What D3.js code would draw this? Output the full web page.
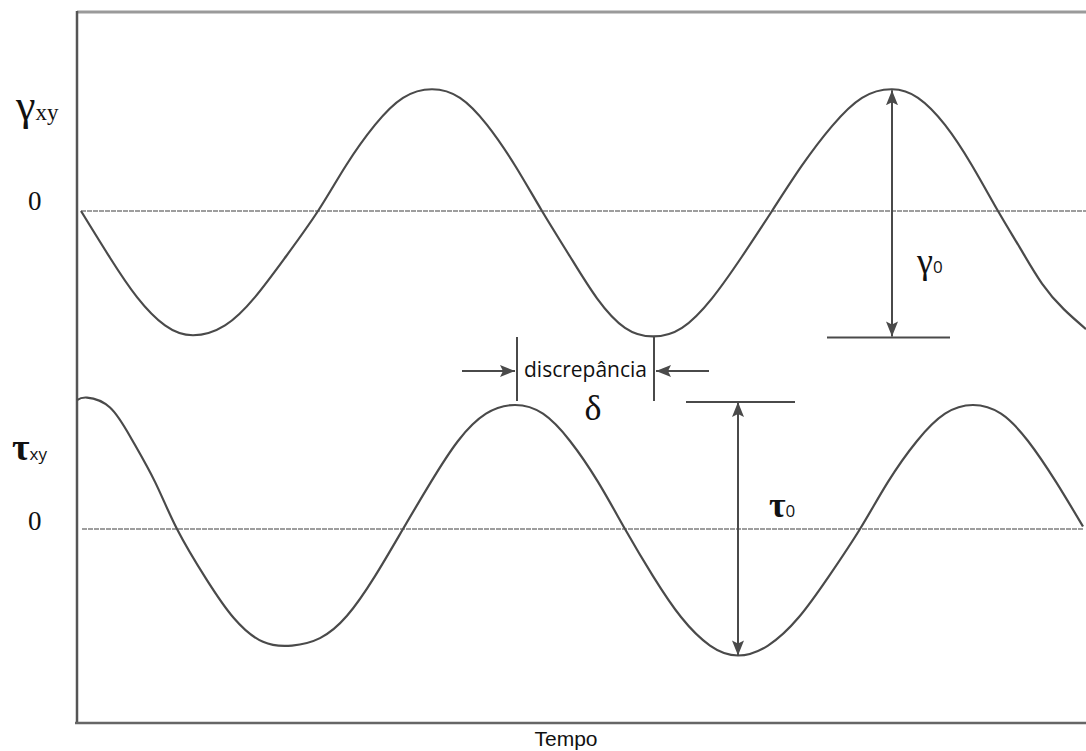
<!DOCTYPE html>
<html>
<head>
<meta charset="utf-8">
<script src="https://cdnjs.cloudflare.com/ajax/libs/d3/7.8.5/d3.min.js"></script>
<style>
    body { margin: 0; background: #fff; }
    .curve { fill: none; stroke: #4a4a4a; stroke-width: 2.2; }
    .zero-line { stroke: #7f7f7f; stroke-width: 1.6; stroke-dasharray: 5,1; }
    .dim { stroke: #4a4a4a; stroke-width: 2; fill: none; }
    .serif { font-family: "Liberation Serif", "DejaVu Serif", serif; fill: #111; }
    .sans { font-family: "Open Sans", "Liberation Sans", sans-serif; fill: #111; }
</style>
</head>
<body>
<div id="vis-strain"></div>
<script>

// shear strain (gamma_xy), time in arbitrary units
var gammaTime = [4, 33, 60, 88, 116, 148, 178, 208, 241, 269, 298, 326, 355, 383, 410, 438, 465,
    493, 520, 548, 576, 605, 635, 665, 695, 725, 755, 785, 815, 841, 868, 895, 921, 943, 965, 987, 1009];
var gammaValue = [0, -0.38, -0.70, -0.93, -1.01, -0.93, -0.70, -0.38, 0, 0.37, 0.70, 0.92, 0.99, 0.92, 0.70, 0.37, 0,
    -0.37, -0.71, -0.95, -1.02, -0.95, -0.71, -0.37, 0, 0.37, 0.69, 0.92, 0.99, 0.92, 0.70, 0.37, 0, -0.30, -0.59, -0.80, -0.96];

// shear stress (tau_xy)
var tauTime = [0, 10, 33, 55, 78, 100, 129, 157, 186, 215, 243, 270, 298, 326, 354, 381, 409, 438, 466,
    493, 521, 548, 576, 604, 633, 661, 691, 722, 752, 783, 811, 840, 868, 896, 924, 951, 979, 1006];
var tauValue = [1.04, 1.06, 0.98, 0.72, 0.38, 0, -0.40, -0.72, -0.91, -0.94, -0.88, -0.70, -0.38, 0, 0.38, 0.71, 0.93, 1.0, 0.93,
    0.71, 0.38, 0, -0.38, -0.71, -0.94, -1.02, -0.94, -0.71, -0.38, 0, 0.38, 0.71, 0.93, 1.0, 0.93, 0.71, 0.38, 0.02];

// annotation anchors (time of the marked peaks)
var gammaPeakTime = 815;
var tauTroughTime = 661;
var lagStart = 440;   // tau peak
var lagEnd = 576;     // gamma trough

var timeDomain = [0, 1009];

StrainVis = function(_parentElement){
    this.parentElement = _parentElement;
    this.initVis();
}

StrainVis.prototype.initVis = function(){
    var vis = this;

    vis.width = 1086;
    vis.height = 751;

    vis.svg = d3.select("#" + vis.parentElement).append("svg")
        .attr("width", vis.width)
        .attr("height", vis.height);

    var defs = vis.svg.append("defs");
    defs.append("marker")
        .attr("id", "arrow")
        .attr("markerUnits", "userSpaceOnUse")
        .attr("markerWidth", 16)
        .attr("markerHeight", 12)
        .attr("refX", 15)
        .attr("refY", 6)
        .attr("orient", "auto-start-reverse")
        .append("path")
        .attr("d", "M0,0 L15,6 L0,12 L3,6 Z")
        .attr("fill", "#4a4a4a");

    // Scales
    vis.x = d3.scaleLinear().domain(timeDomain).range([77, 1086]);
    vis.yGamma = d3.scaleLinear().domain([-1, 1]).range([334, 88]);
    vis.yTau = d3.scaleLinear().domain([-1, 1]).range([653, 405]);

    vis.gammaData = gammaTime.map(function(t, i){ return { t: t, v: gammaValue[i] }; });
    vis.tauData = tauTime.map(function(t, i){ return { t: t, v: tauValue[i] }; });

    vis.updateVis();
}

StrainVis.prototype.updateVis = function(){
    var vis = this;
    var svg = vis.svg;

    //======= Frame ======//
    svg.append("line")
        .attr("x1", 77).attr("x2", 1086).attr("y1", 12).attr("y2", 12)
        .attr("stroke", "#9a9a9a").attr("stroke-width", 3);
    svg.append("line")
        .attr("x1", 77).attr("x2", 77).attr("y1", 11).attr("y2", 724)
        .attr("stroke", "#555").attr("stroke-width", 2.5);
    svg.append("line")
        .attr("x1", 75).attr("x2", 1086).attr("y1", 723).attr("y2", 723)
        .attr("stroke", "#666").attr("stroke-width", 2.5);

    //======= Zero lines ======//
    svg.append("line")
        .attr("class", "zero-line")
        .attr("x1", vis.x(gammaTime[0])).attr("x2", vis.x(timeDomain[1]))
        .attr("y1", vis.yGamma(0)).attr("y2", vis.yGamma(0));
    svg.append("line")
        .attr("class", "zero-line")
        .attr("x1", vis.x(5)).attr("x2", vis.x(tauTime[tauTime.length - 1]))
        .attr("y1", vis.yTau(0)).attr("y2", vis.yTau(0));

    //======= Curves ======//
    var gammaLine = d3.line()
        .x(function(d){ return vis.x(d.t); })
        .y(function(d){ return vis.yGamma(d.v); })
        .curve(d3.curveNatural);

    var tauLine = d3.line()
        .x(function(d){ return vis.x(d.t); })
        .y(function(d){ return vis.yTau(d.v); })
        .curve(d3.curveNatural);

    svg.append("path").datum(vis.gammaData).attr("class", "curve").attr("d", gammaLine);
    svg.append("path").datum(vis.tauData).attr("class", "curve").attr("d", tauLine);

    //======= Amplitude gamma_0 ======//
    var gx = vis.x(gammaPeakTime);
    var gTop = vis.yGamma(d3.max(gammaValue));
    var gBot = vis.yGamma(d3.min(gammaValue));
    svg.append("line").attr("class", "dim")
        .attr("x1", gx).attr("x2", gx).attr("y1", gTop + 1).attr("y2", gBot)
        .attr("marker-start", "url(#arrow)").attr("marker-end", "url(#arrow)");
    svg.append("line").attr("class", "dim")
        .attr("x1", gx - 65).attr("x2", gx + 58).attr("y1", gBot + 1).attr("y2", gBot + 1);

    //======= Amplitude tau_0 ======//
    var tx = vis.x(tauTroughTime);
    var tTop = vis.yTau(1) - 3;
    var tBot = vis.yTau(d3.min(tauValue));
    svg.append("line").attr("class", "dim")
        .attr("x1", tx).attr("x2", tx).attr("y1", tTop).attr("y2", tBot)
        .attr("marker-start", "url(#arrow)").attr("marker-end", "url(#arrow)");
    svg.append("line").attr("class", "dim")
        .attr("x1", tx - 52).attr("x2", tx + 57).attr("y1", tTop).attr("y2", tTop);

    //======= Phase lag delta ======//
    var lx1 = vis.x(lagStart);
    var lx2 = vis.x(lagEnd) + 1;
    var ly = 371;
    svg.append("line").attr("class", "dim").attr("stroke-width", 1.6)
        .attr("x1", lx1).attr("x2", lx1).attr("y1", 337).attr("y2", vis.yTau(1) - 4);
    svg.append("line").attr("class", "dim").attr("stroke-width", 1.6)
        .attr("x1", lx2).attr("x2", lx2).attr("y1", vis.yGamma(-1.02)).attr("y2", vis.yTau(1) - 4);
    svg.append("line").attr("class", "dim")
        .attr("x1", lx1 - 55).attr("x2", lx1 - 2).attr("y1", ly).attr("y2", ly)
        .attr("marker-end", "url(#arrow)");
    svg.append("line").attr("class", "dim")
        .attr("x1", lx2 + 55).attr("x2", lx2 + 2).attr("y1", ly).attr("y2", ly)
        .attr("marker-end", "url(#arrow)");

    svg.append("text").attr("class", "sans")
        .attr("x", (lx1 + lx2) / 2).attr("y", 377)
        .attr("text-anchor", "middle")
        .style("font-size", "21px")
        .text("discrepância");

    svg.append("text").attr("class", "serif")
        .attr("x", 593).attr("y", 420)
        .attr("text-anchor", "middle")
        .style("font-size", "36px")
        .text("δ");

    //======= Axis labels ======//
    var gLabel = svg.append("text").attr("class", "serif")
        .attr("x", 16).attr("y", vis.yGamma(0.74));
    gLabel.append("tspan").style("font-size", "44px").text("γ");
    gLabel.append("tspan").style("font-size", "23px").text("xy");

    var tLabel = svg.append("text").attr("class", "serif")
        .attr("x", 12).attr("y", vis.yTau(0.56));
    tLabel.append("tspan").style("font-size", "38px").style("font-weight", "bold").text("τ");
    tLabel.append("tspan").attr("class", "sans").style("font-size", "17px").text("xy");

    svg.append("text").attr("class", "serif")
        .attr("x", 28).attr("y", vis.yGamma(0) - 1)
        .style("font-size", "27px").text("0");
    svg.append("text").attr("class", "serif")
        .attr("x", 28).attr("y", vis.yTau(0) + 1)
        .style("font-size", "27px").text("0");

    var g0 = svg.append("text").attr("class", "serif")
        .attr("x", gx + 25).attr("y", 273);
    g0.append("tspan").style("font-size", "36px").text("γ");
    g0.append("tspan").attr("class", "sans").style("font-size", "17px").text("0");

    var t0 = svg.append("text").attr("class", "serif")
        .attr("x", tx + 31).attr("y", 517);
    t0.append("tspan").style("font-size", "36px").style("font-weight", "bold").text("τ");
    t0.append("tspan").attr("class", "sans").style("font-size", "17px").text("0");

    svg.append("text")
        .attr("x", 566).attr("y", 746)
        .attr("text-anchor", "middle")
        .style("font-family", "'Liberation Sans', Arial, sans-serif")
        .style("font-size", "21px")
        .attr("fill", "#111")
        .text("Tempo");
}

var strainVis = new StrainVis("vis-strain");
</script>
</body>
</html>
